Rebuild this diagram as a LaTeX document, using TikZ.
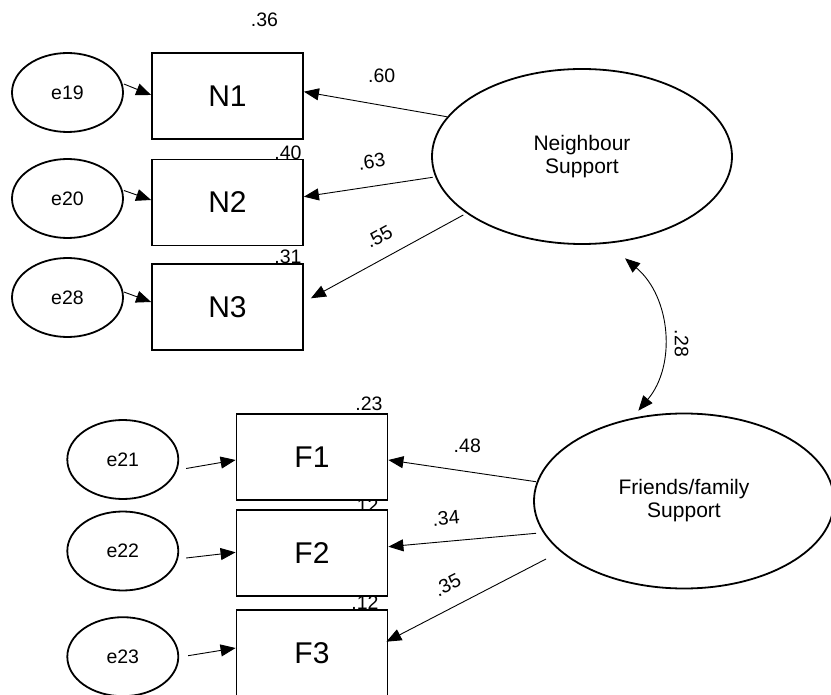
\documentclass[tikz,border=0pt]{standalone}
\usepackage{fontspec}
\setmainfont{Liberation Sans}
\usetikzlibrary{arrows.meta,shapes.geometric}

\tikzset{
  x=1pt, y=-1pt,
  obsbox/.style={draw, line width=1.8pt, fill=white, minimum width=151pt, minimum height=86pt,
    inner sep=0pt, font=\fontsize{30}{34}\selectfont},
  errvar/.style={draw, ellipse, line width=1.8pt, minimum width=111pt, minimum height=79pt,
    inner sep=0pt, font=\fontsize{19.5}{22}\selectfont},
  latent/.style={draw, ellipse, line width=1.8pt, minimum width=300pt, minimum height=175pt,
    inner sep=0pt, align=center, font=\fontsize{21}{23}\selectfont},
  coef/.style={inner sep=0pt, font=\fontsize{19.5}{22}\selectfont},
  path/.style={line width=0.9pt, -{Triangle[length=15pt,width=12pt]}},
}

\begin{document}
\begin{tikzpicture}
\useasboundingbox (0,0) rectangle (831,695);

% squared multiple correlations (drawn first, the boxes partly cover them)
\node[coef] (r36) at (264.5,19.7) {.36};
\node[coef] (r40) at (288,153) {.40};
\node[coef] (r31) at (288,256.7) {.31};
\node[coef] (r23) at (369,403.3) {.23};
\node[coef] (r12a) at (365,506) {.12};
\node[coef] (r12b) at (365,603) {.12};

% observed indicators
\node[obsbox] (N1) at (227.5,96) {N1};
\node[obsbox] (N2) at (227.5,202.5) {N2};
\node[obsbox] (N3) at (227.5,307) {N3};
\node[obsbox] (F1) at (312,457) {F1};
\node[obsbox] (F2) at (312,553.3) {F2};
\node[obsbox] (F3) at (312,653) {F3};

% error terms
\node[errvar] (e19) at (67.5,92.5) {e19};
\node[errvar] (e20) at (67.5,198.5) {e20};
\node[errvar] (e28) at (67.5,297.5) {e28};
\node[errvar] (e21) at (122.8,459.5) {e21};
\node[errvar] (e22) at (122.8,551) {e22};
\node[errvar] (e23) at (122.8,656.7) {e23};

% latent factors
\node[latent] (NS) at (582,156.5) {Neighbour\\Support};
\node[latent] (FS) at (684,501) {Friends/family\\Support};

% error paths
\draw[path] ([yshift=8.5pt]e19.east) -- ([yshift=1pt]N1.west);
\draw[path] ([yshift=8pt]e20.east) -- ([yshift=2.5pt]N2.west);
\draw[path] ([yshift=5.5pt]e28.east) -- ([yshift=5pt]N3.west);
\draw[path] ([xshift=7pt,yshift=-9pt]e21.east) -- ([yshift=-3pt]F1.west);
\draw[path] ([xshift=7pt,yshift=-7pt]e22.east) -- ([yshift=1pt]F2.west);
\draw[path] ([xshift=9pt,yshift=1pt]e23.east) -- ([yshift=5pt]F3.west);

% factor loadings
\draw[path] ([shift={(-135.3pt,39.8pt)}]NS.center) -- ([yshift=4.3pt]N1.east);
\draw[path] ([shift={(-149.3pt,-20.8pt)}]NS.center) -- ([yshift=5.8pt]N2.east);
\draw[path] ([shift={(-118.7pt,-58.5pt)}]NS.center) -- ([xshift=7pt,yshift=8.7pt]N3.east);
\draw[path] ([shift={(-148pt,19.3pt)}]FS.center) -- ([yshift=-3pt]F1.east);
\draw[path] ([shift={(-148pt,-32.3pt)}]FS.center) -- ([yshift=6.6pt]F2.east);
\draw[path] ([shift={(-138pt,-58pt)}]FS.center) -- ([xshift=-2pt,yshift=11.3pt]F3.east);

% factor covariance
\draw[line width=0.9pt, {Triangle[length=15pt,width=12pt]}-{Triangle[length=15pt,width=12pt]}]
  ([shift={(43pt,-101.8pt)}]NS.center) to[bend left=45] ([shift={(-45.7pt,90.3pt)}]FS.center);

% coefficient labels
\node[coef] (l60) at (381.7,76) {.60};
\node[coef, rotate=8.5] (l63) at (371.7,161.7) {.63};
\node[coef, rotate=28.5] (l55) at (379,236.7) {.55};
\node[coef] (l48) at (467.3,446) {.48};
\node[coef, rotate=5] (l34) at (446,518.3) {.34};
\node[coef, rotate=27] (l35) at (447.3,585) {.35};
\node[coef, rotate=-90] (l28) at (681.7,343.3) {.28};
\end{tikzpicture}
\end{document}
